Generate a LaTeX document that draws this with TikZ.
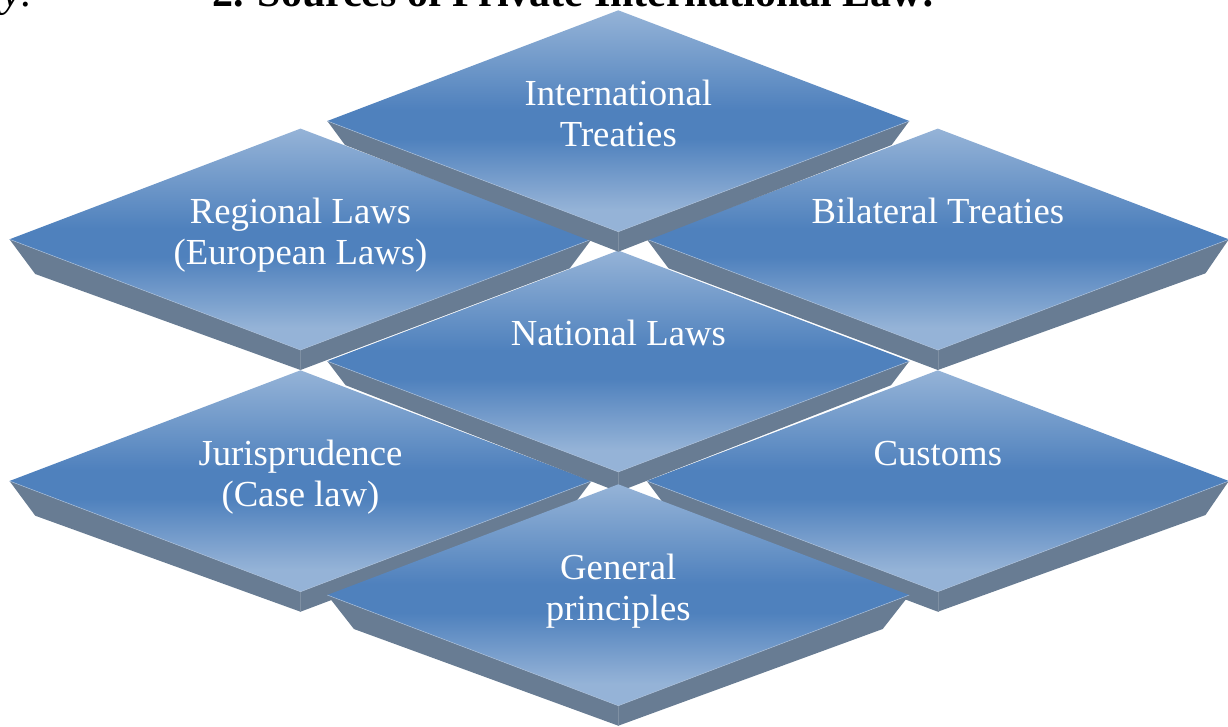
\documentclass[tikz,border=0pt]{standalone}
\usepackage{fontspec}
\setmainfont{Liberation Serif}
\definecolor{facelight}{RGB}{149,179,215}
\definecolor{facedark}{RGB}{79,129,189}
\definecolor{depthc}{RGB}{104,124,147}
\definecolor{edgehl}{RGB}{168,189,215}
\definecolor{titlec}{RGB}{0,0,0}
\pgfdeclareverticalshading{facesh}{100bp}{color(0bp)=(facelight); color(25bp)=(facelight); color(30bp)=(facelight); color(46bp)=(facedark); color(52.5bp)=(facedark); color(75bp)=(facelight); color(100bp)=(facelight)}
\tikzset{
  tiledepth/.style={fill=depthc},
  tileface/.style={shading=facesh},
  tileedge/.style={draw=edgehl, line width=0.5pt},
  tilesep/.style={draw=depthc!85!white, line width=0.4pt},
  tilelabel/.style={text=white, font=\fontsize{36.7}{40.7}\selectfont, anchor=base, inner sep=0pt},
  titletext/.style={text=titlec, font=\fontsize{42}{46}\selectfont\bfseries, anchor=base west, inner sep=0pt}
}
% #1 name, #2 cx, #3 cy, #4 dxL, #5 dyL, #6 dxR, #7 dyR, #8 text
\newcommand\diamondtile[8]{%
\begin{scope}[shift={(#2,#3)}]
  \fill[tiledepth] (-291,0) -- ++(#4,#5) -- (0,130.7) -- ({291+(#6)},#7) -- (291,0) -- (0,110.7) -- cycle;
  \draw[tilesep] (0,110.7) -- (0,130.7);
  \shade[tileface] (0,-110.7) -- (291,0) -- (0,110.7) -- (-291,0) -- cycle;
  \draw[tileedge] (-291,0) -- (0,110.7) -- (291,0);
  \node[tilelabel] (#1) at (0,-15.5) {\begin{tabular}[t]{@{}c@{}}#8\end{tabular}};
\end{scope}}
\begin{document}
\begin{tikzpicture}[x=1pt,y=-1pt]
\useasboundingbox (0,0) rectangle (1228,726);
\node[titletext] (titlea) at (2,6.5) {\normalfont\itshape\fontsize{42}{46}\selectfont y:};
\node[titletext] (titleb) at (212,6.5) {2. Sources of Private International Law:};
\diamondtile{juris}{300.5}{481}{25.7}{34.7}{-21.7}{29}{Jurisprudence\\(Case law)}
\diamondtile{customs}{937.8}{481}{21.7}{29}{-23.3}{34}{Customs}
\diamondtile{national}{618.3}{361.2}{18.3}{24}{-18.3}{24}{National Laws}
\diamondtile{general}{618.3}{595}{26.6}{34}{-26.6}{34}{General\\principles}
\diamondtile{regional}{300.5}{239.3}{25.7}{34.7}{-21.7}{29}{Regional Laws\\(European Laws)}
\diamondtile{bilateral}{937.8}{239.3}{21.7}{29}{-23.3}{34}{Bilateral Treaties}
\diamondtile{intl}{618.3}{121}{17.7}{24}{-17.7}{24}{International\\Treaties}
\end{tikzpicture}
\end{document}
